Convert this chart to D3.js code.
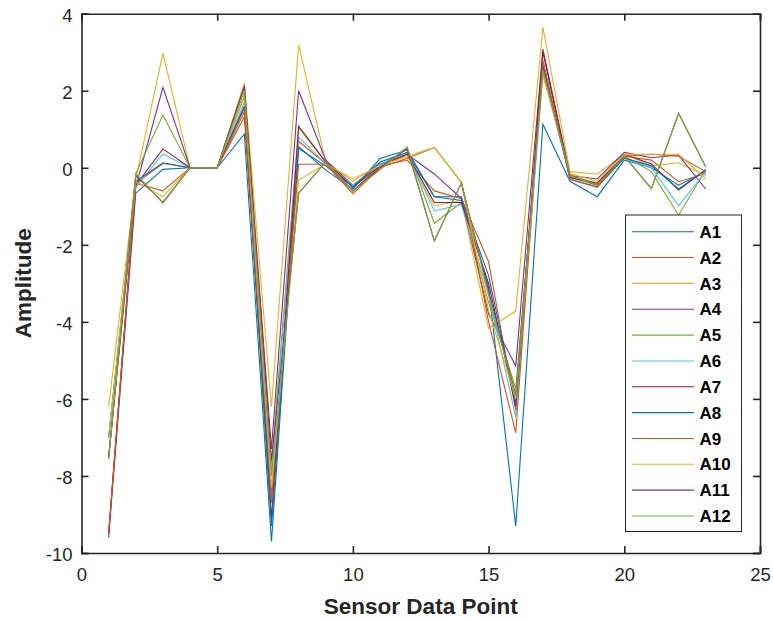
<!DOCTYPE html>
<html><head><meta charset="utf-8">
<script src="https://cdn.jsdelivr.net/npm/d3@7"></script>
<style>body{margin:0;background:#fff}svg{display:block}</style>
</head><body>
<script>
const xValues = d3.range(1, 24);
const seriesNames = ["A1","A2","A3","A4","A5","A6","A7","A8","A9","A10","A11","A12"];
const seriesColors = ["#0072BD","#D95319","#EDB120","#7E2F8E","#77AC30","#4DBEEE","#A2142F","#0072BD","#D95319","#EDB120","#7E2F8E","#77AC30"];
const A1  = [-9.6,-0.66,-0.04,0,0,0.87,-9.7,0.55,-0.06,-0.55,0.24,0.46,-0.75,-0.75,-3.1,-9.3,1.13,-0.35,-0.75,0.2,0.0,-0.45,-0.1];
const A2  = [-9.5,-0.4,0.11,0,0,1.32,-8.7,0.69,0.1,-0.6,0.05,0.2,-0.6,-0.8,-2.44,-6.3,2.6,-0.25,-0.45,0.3,0.2,-0.36,-0.15];
const A3  = [-6.2,-0.3,2.97,0,0,2.2,-6.2,3.19,0.15,-0.35,0.1,0.3,-0.99,-0.85,-4.17,-3.72,3.65,-0.1,-0.16,0.35,0.05,0.13,-0.2];
const A4  = [-7.5,-0.5,2.09,0,0,2.12,-7.3,2.0,0.2,-0.45,0.1,0.35,-0.16,-0.8,-3.8,-5.14,3.08,-0.2,-0.29,0.4,0.26,0.33,-0.55];
const A5  = [-7.5,-0.15,1.37,0,0,1.85,-7.7,1.05,0.15,-0.5,0.05,0.5,-1.44,-0.9,-3.5,-5.73,2.5,-0.2,-0.4,0.3,-0.1,-1.23,-0.05];
const A6  = [-7.0,-0.5,0.36,0,0,1.7,-7.9,0.8,0.1,-0.45,0.1,0.4,-1.12,-0.95,-3.3,-6.47,2.45,-0.25,-0.45,0.25,0.0,-0.99,-0.1];
const A7  = [-9.5,-0.45,0.49,0,0,1.6,-9.1,1.08,0.15,-0.5,0.05,0.35,-0.9,-0.9,-3.0,-6.2,3.01,-0.25,-0.4,0.35,0.1,-0.58,-0.05];
const A8  = [-7.0,-0.36,0.13,0,0,1.55,-9.3,0.5,0.05,-0.5,0.15,0.4,-0.75,-0.85,-2.8,-6.1,2.7,-0.3,-0.5,0.25,0.05,-0.55,-0.05];
const A9  = [-9.5,-0.4,-0.6,0,0,1.45,-8.5,0.09,0.09,-0.67,0.0,0.25,0.53,-0.38,-4.0,-6.88,2.8,-0.3,-0.5,0.3,0.35,0.3,-0.1];
const A10 = [-7.0,-0.35,-0.75,0,0,1.9,-8.3,-0.32,0.1,-0.29,0.05,0.3,0.53,-0.38,-3.7,-6.0,2.4,-0.15,-0.35,0.35,0.35,0.35,-0.29];
const A11 = [-7.55,-0.2,-0.9,0,0,2.1,-7.6,-0.66,0.15,-0.6,0.0,0.5,-1.9,-0.39,-3.2,-5.9,2.6,-0.2,-0.45,0.3,-0.54,1.41,0.03];
const A12 = [-7.55,-0.15,-0.92,0,0,2.0,-8.0,-0.66,0.15,-0.6,-0.05,0.55,-1.9,-0.39,-3.3,-5.95,2.55,-0.2,-0.45,0.3,-0.54,1.41,0.03];
const allSeries = [A1,A2,A3,A4,A5,A6,A7,A8,A9,A10,A11,A12];
const xTicks = [0,5,10,15,20,25];
const yTicks = [-10,-8,-6,-4,-2,0,2,4];
const xLabel = "Sensor Data Point";
const yLabel = "Amplitude";

const W = 773, H = 620;
const m = {left: 81.5, right: 13, top: 13.7, bottom: 67};
const svg = d3.select("body").append("svg").attr("width", W).attr("height", H);
const x = d3.scaleLinear().domain([0,25]).range([m.left, W - m.right]);
const y = d3.scaleLinear().domain([-10,4]).range([H - m.bottom, m.top]);
const axisColor = "#262626";
const font = "Arial, 'Liberation Sans', Helvetica, sans-serif";
const fmt = d => String(d);

// lines
const line = d3.line().x((d,i) => x(xValues[i])).y(d => y(d));
svg.append("g").selectAll("path").data(allSeries).join("path")
  .attr("d", line).attr("fill","none")
  .attr("stroke", (d,i) => seriesColors[i]).attr("stroke-width", 1.1)
  .attr("stroke-linejoin","miter");

// axes
const tl = 7;
const gx = svg.append("g").attr("transform", `translate(0,${y(-10)})`)
  .call(d3.axisBottom(x).tickValues(xTicks).tickSize(-tl).tickPadding(15).tickFormat(fmt));
const gxt = svg.append("g").attr("transform", `translate(0,${y(4)})`)
  .call(d3.axisTop(x).tickValues(xTicks).tickSize(-tl).tickFormat(""));
const gy = svg.append("g").attr("transform", `translate(${x(0)},0)`)
  .call(d3.axisLeft(y).tickValues(yTicks).tickSize(-tl).tickPadding(9).tickFormat(fmt));
const gyr = svg.append("g").attr("transform", `translate(${x(25)},0)`)
  .call(d3.axisRight(y).tickValues(yTicks).tickSize(-tl).tickFormat(""));
[gx,gxt,gy,gyr].forEach(g => {
  g.selectAll(".domain").attr("stroke", axisColor).attr("stroke-width", 1.6);
  g.selectAll(".tick line").attr("stroke", axisColor).attr("stroke-width", 1.6);
  g.selectAll("text").attr("fill", axisColor).attr("font-family", font).attr("font-size", 18.5);
});
gy.selectAll("text").attr("dy", "0.4em");
gx.selectAll("text").attr("dy", "0.72em");

// axis labels
svg.append("text").attr("x", (x(0)+x(25))/2).attr("y", 614)
  .attr("text-anchor","middle").attr("font-family", font).attr("font-weight","bold")
  .attr("font-size", 22.5).attr("fill", axisColor).text(xLabel);
svg.append("text").attr("transform", `translate(31,${(y(-10)+y(4))/2}) rotate(-90)`)
  .attr("text-anchor","middle").attr("font-family", font).attr("font-weight","bold")
  .attr("font-size", 22.5).attr("fill", axisColor).text(yLabel);

// legend
const lg = svg.append("g");
const lx = 625.5, ly = 215, lw = 116, lh = 316.5;
lg.append("rect").attr("x", lx).attr("y", ly).attr("width", lw).attr("height", lh)
  .attr("fill","#fff").attr("stroke", axisColor).attr("stroke-width", 1);
const rowY = d3.scaleLinear().domain([0,11]).range([ly + 16.7, ly + 301]);
seriesNames.forEach((name, i) => {
  lg.append("line").attr("x1", lx + 6.5).attr("x2", lx + 68.5)
    .attr("y1", rowY(i)).attr("y2", rowY(i))
    .attr("stroke", seriesColors[i]).attr("stroke-width", 1.1);
  lg.append("text").attr("x", lx + 74).attr("y", rowY(i)).attr("dy","0.36em")
    .attr("font-family", font).attr("font-weight","bold").attr("font-size", 17)
    .attr("fill", "#000").text(name);
});
</script>
</body></html>
